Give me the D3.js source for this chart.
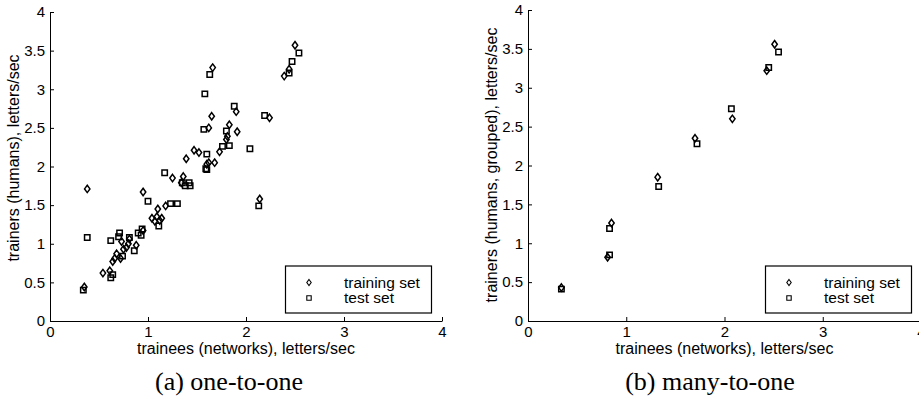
<!DOCTYPE html>
<html>
<head>
<meta charset="utf-8">
<script src="https://cdn.jsdelivr.net/npm/d3@7"></script>
<style>
  body { margin: 0; background: #fff; }
  svg { display: block; }
  .tick text, .lbl, .leg { font-family: "Liberation Sans", Arial, sans-serif; fill: #000; }
  .cap { font-family: "Liberation Serif", "Times New Roman", serif; fill: #000; }
</style>
</head>
<body>
<div id="chart"></div>
<script>
// (a) one-to-one, training set [networks, humans]
const oneTrain = [
  [0.35, 0.44], [0.38, 1.71], [0.54, 0.62], [0.61, 0.65], [0.64, 0.77], [0.66, 0.81],
  [0.68, 0.87], [0.72, 0.81], [0.73, 1.03], [0.75, 0.93], [0.78, 0.95], [0.80, 1.00],
  [0.81, 1.06], [0.88, 0.98], [0.95, 1.67], [0.95, 1.17], [1.04, 1.33], [1.07, 1.29],
  [1.09, 1.35], [1.10, 1.45], [1.12, 1.30], [1.14, 1.33], [1.18, 1.49], [1.25, 1.85],
  [1.34, 1.79], [1.36, 1.87], [1.39, 2.10], [1.47, 2.21], [1.52, 2.18], [1.60, 2.03],
  [1.62, 2.05], [1.62, 2.50], [1.65, 2.65], [1.66, 3.28], [1.68, 2.05], [1.73, 2.19],
  [1.80, 2.35], [1.81, 2.39], [1.83, 2.54], [1.90, 2.71], [1.91, 2.45], [2.14, 1.58],
  [2.24, 2.63], [2.39, 3.17], [2.44, 3.26], [2.50, 3.57]
];
// (a) one-to-one, test set
const oneTest = [
  [0.34, 0.40], [0.38, 1.08], [0.62, 0.56], [0.64, 0.60], [0.62, 1.04], [0.70, 1.09],
  [0.71, 1.14], [0.74, 0.84], [0.81, 1.08], [0.86, 0.91], [0.90, 1.14], [0.93, 1.11],
  [0.94, 1.19], [1.00, 1.55], [1.11, 1.23], [1.17, 1.92], [1.23, 1.52], [1.30, 1.52],
  [1.35, 1.79], [1.38, 1.75], [1.42, 1.79], [1.43, 1.75], [1.57, 2.48], [1.58, 2.94],
  [1.59, 1.97], [1.60, 1.96], [1.60, 2.16], [1.63, 3.19], [1.76, 2.26], [1.80, 2.46],
  [1.83, 2.27], [1.88, 2.78], [2.04, 2.23], [2.13, 1.49], [2.19, 2.66], [2.44, 3.21],
  [2.47, 3.36], [2.54, 3.47]
];
// (b) many-to-one
const manyTrain = [
  [0.34, 0.43], [0.81, 0.82], [0.85, 1.26], [1.32, 1.85], [1.70, 2.35],
  [2.08, 2.60], [2.43, 3.22], [2.51, 3.56]
];
const manyTest = [
  [0.34, 0.41], [0.83, 0.85], [0.83, 1.19], [1.33, 1.73], [1.72, 2.28],
  [2.07, 2.73], [2.45, 3.26], [2.55, 3.46]
];
const xTicks = [0, 1, 2, 3, 4];
const yTicks = [0, 0.5, 1, 1.5, 2, 2.5, 3, 3.5, 4];
const legendLabels = ["training set", "test set"];

const width = 919, height = 398;
const svg = d3.select("#chart").append("svg")
  .attr("width", width).attr("height", height);

const diamond = "M0,-3.7L2.7,0L0,3.7L-2.7,0Z";
const square = "M-2.7,-2.7H2.7V2.7H-2.7Z";
const diamondSmall = "M0,-3L2.2,0L0,3L-2.2,0Z";
const squareSmall = "M-2.2,-2.2H2.2V2.2H-2.2Z";

function panel(cfg) {
  const x = d3.scaleLinear().domain([0, 4]).range([cfg.x0, cfg.x1]);
  const y = d3.scaleLinear().domain([0, 4]).range([321, cfg.yTop]);
  const g = svg.append("g");

  const xAxis = g.append("g")
    .attr("transform", "translate(0,321)")
    .call(d3.axisBottom(x).tickValues(xTicks).tickFormat(d => d)
      .tickSizeInner(-4).tickSizeOuter(0).tickPadding(5));
  const yAxis = g.append("g")
    .attr("transform", `translate(${cfg.x0},0)`)
    .call(d3.axisLeft(y).tickValues(yTicks).tickFormat(d => d)
      .tickSizeInner(-4).tickSizeOuter(0).tickPadding(5));
  [xAxis, yAxis].forEach(a => {
    a.selectAll("path, line").attr("stroke", "#000").attr("stroke-width", 1);
    a.selectAll("text").style("font-size", "15px");
  });

  g.append("text").attr("class", "lbl")
    .attr("x", (cfg.x0 + cfg.x1) / 2).attr("y", 354)
    .attr("text-anchor", "middle").style("font-size", "16px")
    .text("trainees (networks), letters/sec");
  g.append("text").attr("class", "lbl")
    .attr("transform", `translate(${cfg.x0 - 31},${cfg.yLabelMid}) rotate(-90)`)
    .attr("text-anchor", "middle").style("font-size", "16px")
    .text(cfg.yLabel);

  g.append("g").selectAll("path").data(cfg.test).join("path")
    .attr("d", square)
    .attr("transform", d => `translate(${x(d[0])},${y(d[1])})`)
    .attr("fill", "none").attr("stroke", "#000").attr("stroke-width", 1.5);
  g.append("g").selectAll("path").data(cfg.train).join("path")
    .attr("d", diamond)
    .attr("transform", d => `translate(${x(d[0])},${y(d[1])})`)
    .attr("fill", "none").attr("stroke", "#000").attr("stroke-width", 1.5);

  // legend
  const lg = g.append("g").attr("transform", `translate(${cfg.legX},266)`);
  lg.append("rect").attr("width", 146).attr("height", 47)
    .attr("fill", "#fff").attr("stroke", "#000").attr("stroke-width", 1.2);
  [diamondSmall, squareSmall].forEach((m, i) => {
    lg.append("path").attr("d", m)
      .attr("transform", `translate(23.5,${16.5 + i * 15.5})`)
      .attr("fill", "none").attr("stroke", "#000").attr("stroke-width", 1.1);
    lg.append("text").attr("class", "leg")
      .attr("x", 58.5).attr("y", 16.5 + i * 15.5).attr("dy", "0.35em")
      .style("font-size", "15.5px").text(legendLabels[i]);
  });

  g.append("text").attr("class", "cap")
    .attr("x", cfg.capX).attr("y", 390)
    .attr("text-anchor", "middle").style("font-size", "26px")
    .text(cfg.caption);
}

panel({ x0: 50, x1: 442, yTop: 12, train: oneTrain, test: oneTest,
  yLabel: "trainers (humans), letters/sec", yLabelMid: 158,
  legX: 285.5, capX: 229, caption: "(a) one-to-one" });
panel({ x0: 528, x1: 921, yTop: 10, train: manyTrain, test: manyTest,
  yLabel: "trainers (humans, grouped), letters/sec", yLabelMid: 165,
  legX: 765.5, capX: 710, caption: "(b) many-to-one" });
</script>
</body>
</html>
